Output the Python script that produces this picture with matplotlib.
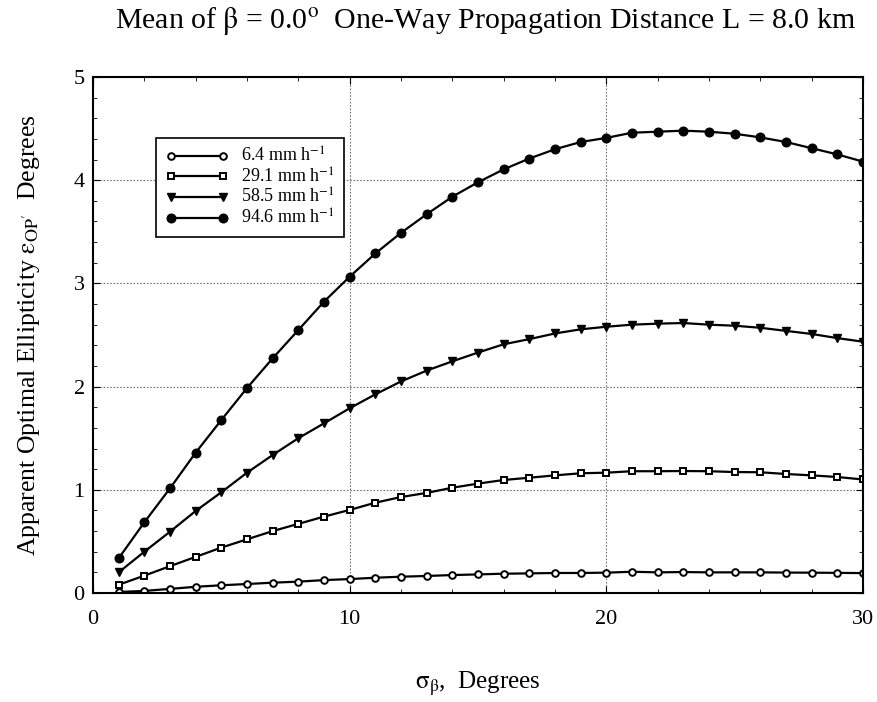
import matplotlib
matplotlib.use("Agg")
import matplotlib.pyplot as plt
from matplotlib.ticker import MultipleLocator
import numpy as np

plt.rcParams["font.family"] = ["Liberation Serif", "DejaVu Serif"]
plt.rcParams["mathtext.fontset"] = "stix"

sigma_beta = np.arange(1, 31)

rain_6_4 = [0.01, 0.02, 0.04, 0.06, 0.075, 0.087, 0.10, 0.11, 0.125, 0.135,
            0.148, 0.158, 0.165, 0.174, 0.18, 0.187, 0.19, 0.194, 0.194, 0.197,
            0.206, 0.20, 0.203, 0.20, 0.20, 0.20, 0.198, 0.197, 0.195, 0.193]
rain_29_1 = [0.08, 0.168, 0.26, 0.35, 0.44, 0.52, 0.60, 0.67, 0.74, 0.805,
             0.875, 0.93, 0.97, 1.02, 1.06, 1.095, 1.117, 1.14, 1.16, 1.166,
             1.18, 1.18, 1.182, 1.18, 1.172, 1.17, 1.153, 1.14, 1.124, 1.10]
rain_58_5 = [0.20, 0.40, 0.594, 0.795, 0.976, 1.166, 1.337, 1.50, 1.644, 1.79,
             1.925, 2.05, 2.155, 2.245, 2.33, 2.41, 2.46, 2.515, 2.555, 2.58,
             2.60, 2.61, 2.616, 2.60, 2.59, 2.57, 2.54, 2.51, 2.47, 2.435]
rain_94_6 = [0.336, 0.685, 1.014, 1.36, 1.676, 1.986, 2.274, 2.548, 2.823, 3.065,
             3.29, 3.49, 3.67, 3.84, 3.98, 4.105, 4.21, 4.30, 4.37, 4.41,
             4.46, 4.47, 4.48, 4.47, 4.45, 4.415, 4.37, 4.31, 4.25, 4.18]

labels = [r"6.4 mm h$^{\mathrm{-1}}$", r"29.1 mm h$^{\mathrm{-1}}$",
          r"58.5 mm h$^{\mathrm{-1}}$", r"94.6 mm h$^{\mathrm{-1}}$"]

fig = plt.figure(figsize=(8.77, 7.02), dpi=100)
ax = fig.add_axes([93 / 877, 109 / 702, 770 / 877, 516 / 702])

styles = [
    dict(marker="o", markersize=4.8, markerfacecolor="white", markeredgewidth=1.4),
    dict(marker="s", markersize=4.3, markerfacecolor="white", markeredgewidth=1.4),
    dict(marker="v", markersize=6, markerfacecolor="black"),
    dict(marker="o", markersize=6.2, markerfacecolor="black"),
]
series = [rain_6_4, rain_29_1, rain_58_5, rain_94_6]
for values, label, st in zip(series, labels, styles):
    ax.plot(sigma_beta, values, color="black", linewidth=1.6,
            markeredgecolor="black", label=label, **st)

ax.set_xlim(0, 30)
ax.set_ylim(0, 5)
ax.xaxis.set_major_locator(MultipleLocator(10))
ax.xaxis.set_minor_locator(MultipleLocator(2))
ax.yaxis.set_major_locator(MultipleLocator(1))
ax.yaxis.set_minor_locator(MultipleLocator(0.2))
ax.tick_params(which="both", direction="in", top=True, right=True, labelsize=16)
ax.tick_params(which="major", length=5)
ax.tick_params(which="minor", length=3)
ax.tick_params(axis="x", pad=12)
ax.tick_params(axis="y", pad=6)
for spine in ax.spines.values():
    spine.set_linewidth(1.5)
ax.grid(True, which="major", color="0.45", linestyle=(0, (1.5, 1.5)), linewidth=0.8)

ax.set_xlabel(r"$\mathrm{\sigma_{\beta}}$,  Degrees", fontsize=18)
ax.xaxis.set_label_coords(0.5, -0.148)
ax.set_ylabel(r"Apparent Optimal Ellipticity $\mathrm{\varepsilon_{OP'}}$  Degrees",
              fontsize=18.5)
ax.yaxis.set_label_coords(-0.066, 0.5)

fig.text(485 / 877, 1 - 21 / 702,
         r"Mean of $\mathrm{\beta}$ = 0.0$^{\mathrm{o}}$  One-Way Propagation Distance L = 8.0 km",
         ha="center", va="center", fontsize=21.5)

leg = ax.legend(loc="upper left", bbox_to_anchor=(0.082, 0.882), fontsize=13,
                frameon=True, fancybox=False, edgecolor="black", framealpha=1,
                numpoints=2, handlelength=3.5, labelspacing=0.08, borderpad=0.5,
                handletextpad=0.7, borderaxespad=0)
leg.get_frame().set_linewidth(1.2)

fig.savefig("out.png", dpi=100)
